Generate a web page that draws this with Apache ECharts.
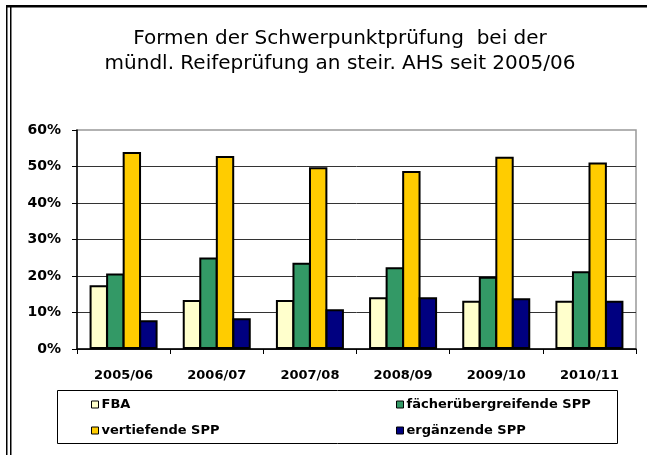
<!DOCTYPE html>
<html>
<head>
<meta charset="utf-8">
<script src="https://cdn.jsdelivr.net/npm/echarts@6/dist/echarts.min.js"></script>
<style>
  html, body { margin: 0; padding: 0; background: #fff; }
  #chart { width: 647px; height: 455px; }
</style>
</head>
<body>
<div id="chart"></div>
<script>
// school years and shares in percent
var years = ['2005/06', '2006/07', '2007/08', '2008/09', '2009/10', '2010/11'];
var fba = [17.5, 13.4, 13.4, 14.2, 13.2, 13.2];
var faecher = [20.7, 25.1, 23.6, 22.4, 19.8, 21.3];
var vertiefend = [54.0, 52.9, 49.8, 48.8, 52.7, 51.1];
var ergaenzend = [7.9, 8.4, 10.9, 14.2, 13.9, 13.2];
var yTicks = [0, 10, 20, 30, 40, 50, 60];

var seriesNames = ['FBA', 'fächerübergreifende SPP', 'vertiefende SPP', 'ergänzende SPP'];
var seriesColors = ['#FFFFCC', '#339966', '#FFCC00', '#000080'];
var seriesData = [fba, faecher, vertiefend, ergaenzend];

var myChart = echarts.init(document.getElementById('chart'));

var font = 'DejaVu Sans';

function legendAt(name, left, top) {
    return {
        data: [name],
        left: left,
        top: top,
        itemWidth: 7,
        itemHeight: 7,
        padding: 0,
        icon: 'rect',
        selectedMode: false,
        itemStyle: { borderColor: '#000', borderWidth: 1 },
        textStyle: { fontFamily: font, fontWeight: 'bold', fontSize: 13, color: '#000', padding: [0, 0, 0, -2] }
    };
}

var option = {
    backgroundColor: '#fff',
    animation: false,
    title: {
        text: 'Formen der Schwerpunktprüfung  bei der\nmündl. Reifeprüfung an steir. AHS seit 2005/06',
        left: 335,
        textAlign: 'center',
        top: 21,
        textStyle: {
            fontFamily: font,
            fontWeight: 'normal',
            fontSize: 20,
            lineHeight: 25,
            color: '#000'
        }
    },
    legend: [
        legendAt(seriesNames[0], 91, 398),
        legendAt(seriesNames[1], 396, 398),
        legendAt(seriesNames[2], 91, 424),
        legendAt(seriesNames[3], 396, 424)
    ],
    grid: {
        left: 77,
        right: 11,
        top: 130,
        bottom: 106,
        show: true,
        borderColor: '#999',
        borderWidth: 1.5,
        backgroundColor: '#fff'
    },
    xAxis: {
        type: 'category',
        data: years,
        axisLine: { lineStyle: { color: '#000', width: 1.5 } },
        axisTick: { show: true, length: 5, lineStyle: { color: '#000' } },
        axisLabel: { margin: 20, fontFamily: font, fontWeight: 'bold', fontSize: 13, color: '#000' }
    },
    yAxis: {
        type: 'value',
        min: yTicks[0],
        max: yTicks[yTicks.length - 1],
        interval: 10,
        axisLine: { show: true, lineStyle: { color: '#000', width: 1.5 } },
        axisTick: { show: true, length: 5, lineStyle: { color: '#000' } },
        axisLabel: { margin: 16, formatter: '{value}%', fontFamily: font, fontWeight: 'bold', fontSize: 14, color: '#000' },
        splitLine: { show: true, showMaxLine: false, lineStyle: { color: '#333', width: 1 } }
    },
    series: seriesNames.map(function (name, i) {
        return {
            name: name,
            type: 'bar',
            data: seriesData[i],
            barGap: '-10%',
            barCategoryGap: '27%',
            itemStyle: { color: seriesColors[i], borderColor: '#000', borderWidth: 2 }
        };
    }),
    graphic: [
        // page frame: top rule and double rule on the left
        { type: 'rect', shape: { x: 6, y: 5, width: 641, height: 2.5 }, style: { fill: '#000' } },
        { type: 'rect', shape: { x: 6, y: 5, width: 1.5, height: 450 }, style: { fill: '#000' } },
        { type: 'rect', shape: { x: 10, y: 5, width: 1.5, height: 450 }, style: { fill: '#000' } },
        // legend box
        { type: 'rect', z: -1, shape: { x: 57.5, y: 390.5, width: 560, height: 53 }, style: { fill: '#fff', stroke: '#000', lineWidth: 1 } }
    ]
};

myChart.setOption(option);
</script>
</body>
</html>
